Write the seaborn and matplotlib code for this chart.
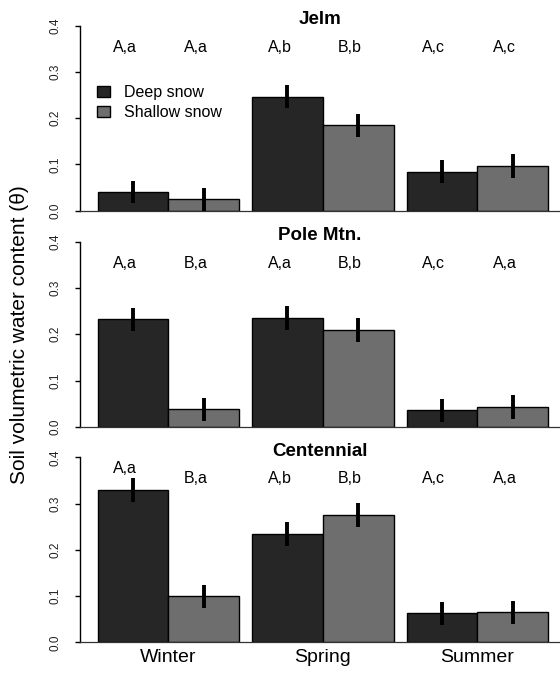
import matplotlib
matplotlib.use("Agg")
import matplotlib.pyplot as plt
import matplotlib.transforms as mtransforms
from matplotlib.patches import Patch
import numpy as np
import pandas as pd
import seaborn as sns

# ---------------- data ----------------
seasons = ["Winter", "Spring", "Summer"]
snow_levels = ["Deep snow", "Shallow snow"]
sites = ["Jelm", "Pole Mtn.", "Centennial"]

jelm_deep = [0.041, 0.247, 0.084]
jelm_shallow = [0.025, 0.185, 0.097]
jelm_deep_se = [0.024, 0.025, 0.025]
jelm_shallow_se = [0.025, 0.025, 0.026]
jelm_deep_letters = ["A,a", "A,b", "A,c"]
jelm_shallow_letters = ["A,a", "B,b", "A,c"]

pole_deep = [0.233, 0.236, 0.036]
pole_shallow = [0.038, 0.209, 0.043]
pole_deep_se = [0.025, 0.026, 0.025]
pole_shallow_se = [0.025, 0.026, 0.026]
pole_deep_letters = ["A,a", "A,a", "A,c"]
pole_shallow_letters = ["B,a", "B,b", "A,a"]

cent_deep = [0.330, 0.235, 0.063]
cent_shallow = [0.100, 0.275, 0.065]
cent_deep_se = [0.026, 0.026, 0.025]
cent_shallow_se = [0.025, 0.026, 0.025]
cent_deep_letters = ["A,a", "A,b", "A,c"]
cent_shallow_letters = ["B,a", "B,b", "A,a"]

yticks = [0.0, 0.1, 0.2, 0.3, 0.4]
ytick_labels = ["0.0", "0.1", "0.2", "0.3", "0.4"]
ylabel = "Soil volumetric water content (\u03b8)"

panels = [
    (sites[0], jelm_deep, jelm_shallow, jelm_deep_se, jelm_shallow_se, jelm_deep_letters, jelm_shallow_letters),
    (sites[1], pole_deep, pole_shallow, pole_deep_se, pole_shallow_se, pole_deep_letters, pole_shallow_letters),
    (sites[2], cent_deep, cent_shallow, cent_deep_se, cent_shallow_se, cent_deep_letters, cent_shallow_letters),
]

# ---------------- style ----------------
sns.set_style("white")
plt.rcParams["font.family"] = ["Liberation Sans", "DejaVu Sans"]
plt.rcParams["text.color"] = "black"
plt.rcParams["xtick.color"] = "black"
plt.rcParams["ytick.color"] = "black"
dark = "#262626"
gray = "#6e6e6e"

W, H = 560, 675
fig = plt.figure(figsize=(W / 100, H / 100), dpi=100)
left = 80.3 / W
width = 1 - left
zero_px = [210.7, 426.7, 642.3]
height = 184.8 / H

for i, (site, deep, shallow, dse, sse, dlet, slet) in enumerate(panels):
    ax = fig.add_axes([left, 1 - zero_px[i] / H, width, height])
    df = pd.DataFrame({
        "season": seasons * 2,
        "snow": [snow_levels[0]] * 3 + [snow_levels[1]] * 3,
        "theta": list(deep) + list(shallow),
        "se": list(dse) + list(sse),
        "letter": list(dlet) + list(slet),
    })
    sns.barplot(data=df, x="season", y="theta", hue="snow", order=seasons,
                hue_order=snow_levels, palette=[dark, gray], saturation=1,
                width=0.915, gap=0, edgecolor="black", linewidth=1.0,
                errorbar=None, legend=False, ax=ax)

    # bar centers from seaborn's patches, matched to data rows
    bars = sorted([p for p in ax.patches if p.get_height() > 0], key=lambda p: p.get_x())
    order_rows = []
    for s in seasons:
        for lv in snow_levels:
            order_rows.append(df[(df.season == s) & (df.snow == lv)].iloc[0])
    xs = [b.get_x() + b.get_width() / 2 for b in bars]
    ys = [r.theta for r in order_rows]
    es = [r.se for r in order_rows]
    ax.errorbar(xs, ys, yerr=es, fmt="none", ecolor="black", elinewidth=2.8,
                capsize=0, zorder=5)

    for x, r in zip(xs, order_rows):
        ty = max(0.354, r.theta + r.se + 0.02)
        ax.text(x - 0.052, ty, r.letter, ha="center", va="center", fontsize=11.5, color="black")

    trans = mtransforms.blended_transform_factory(ax.transAxes, ax.transData)
    ax.text(0.5, 0.414, site, transform=trans, ha="center", va="center",
            fontsize=13.5, fontweight="bold", color="black", clip_on=False)

    ax.set_xlim(-0.5696, 2.535)
    ax.set_ylim(0, 0.4)
    ax.set_xlabel("")
    ax.set_ylabel("")
    for sp in ["top", "right"]:
        ax.spines[sp].set_visible(False)
    ax.spines["left"].set_bounds(0, 0.4)
    ax.spines["left"].set_color("black")
    ax.spines["left"].set_linewidth(1.0)
    ax.spines["bottom"].set_color("#333333")
    ax.spines["bottom"].set_linewidth(0.9)
    ax.set_yticks(yticks)
    ax.set_yticklabels(ytick_labels, rotation=90, va="center", fontsize=8.5, color="#222222")
    ax.tick_params(axis="y", left=True, length=3.6, width=1.0, pad=10, color="black")
    ax.tick_params(axis="x", bottom=False, length=0, pad=5, labelsize=14, labelcolor="black")
    if i < 2:
        ax.set_xticklabels([])
    if i == 0:
        handles = [Patch(facecolor=dark, edgecolor="black", linewidth=1.0),
                   Patch(facecolor=gray, edgecolor="black", linewidth=1.0)]
        fig.legend(handles, snow_levels, loc="upper left",
                   bbox_to_anchor=(97 / W, 1 - 85 / H), frameon=False,
                   fontsize=11.5, handlelength=0.8, handleheight=0.7,
                   handletextpad=0.9, labelspacing=0.3, borderpad=0,
                   borderaxespad=0)

fig.text(20 / W, 1 - 335 / H, ylabel, rotation=90, ha="center", va="center",
         fontsize=15, color="black")

fig.savefig("out.png", dpi=100)
